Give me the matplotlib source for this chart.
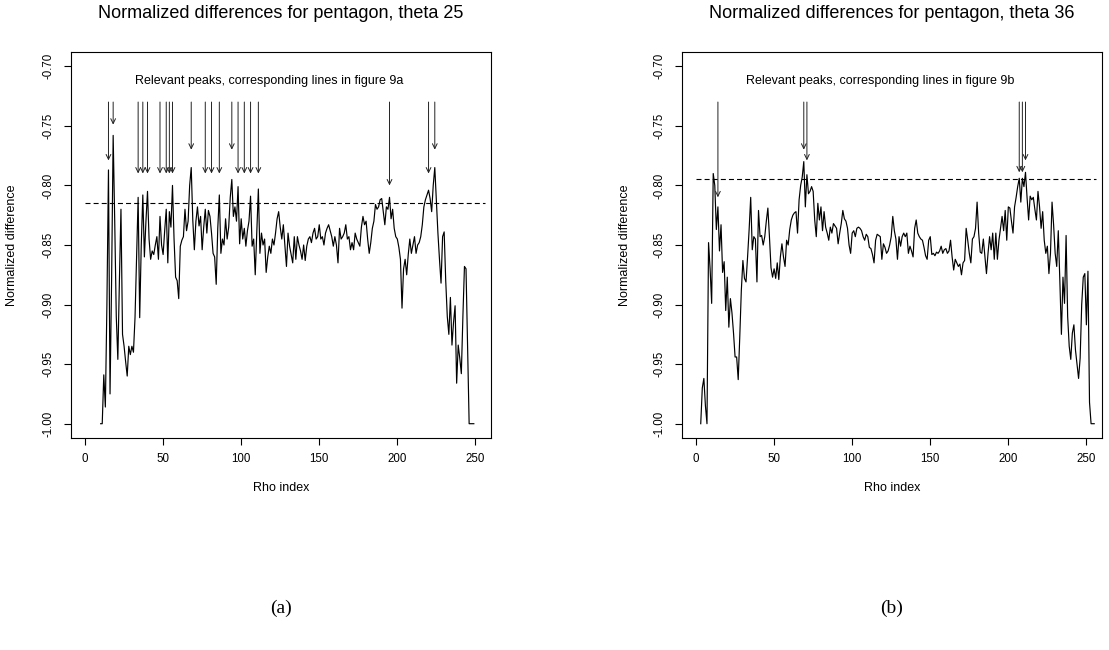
import matplotlib
matplotlib.use("Agg")
import matplotlib.pyplot as plt
import numpy as np

plt.rcParams['font.family'] = ['Liberation Sans', 'DejaVu Sans']
plt.rcParams['axes.unicode_minus'] = False

# ---------------- data: panel (a), theta 25 ----------------
title_a = "Normalized differences for pentagon, theta 25"
note_a = "Relevant peaks, corresponding lines in figure 9a"
start_a = 10
diff_a = [
    -1.000, -1.000, -0.959, -0.986, -0.900, -0.787, -0.975, -0.880, -0.758, -0.830,
    -0.910, -0.946, -0.880, -0.820, -0.925, -0.935, -0.948, -0.960, -0.935, -0.942,
    -0.935, -0.940, -0.911, -0.860, -0.810, -0.911, -0.850, -0.808, -0.860, -0.830,
    -0.805, -0.845, -0.862, -0.855, -0.858, -0.850, -0.843, -0.862, -0.826, -0.850,
    -0.858, -0.838, -0.820, -0.865, -0.822, -0.835, -0.800, -0.845, -0.877, -0.880,
    -0.895, -0.851, -0.846, -0.843, -0.820, -0.838, -0.830, -0.800, -0.785, -0.829,
    -0.854, -0.830, -0.818, -0.834, -0.826, -0.854, -0.835, -0.820, -0.840, -0.821,
    -0.826, -0.840, -0.857, -0.860, -0.883, -0.836, -0.808, -0.857, -0.845, -0.850,
    -0.828, -0.845, -0.835, -0.810, -0.795, -0.826, -0.818, -0.830, -0.801, -0.849,
    -0.828, -0.845, -0.836, -0.851, -0.838, -0.830, -0.809, -0.851, -0.845, -0.875,
    -0.840, -0.803, -0.857, -0.840, -0.850, -0.845, -0.873, -0.860, -0.851, -0.857,
    -0.845, -0.850, -0.840, -0.828, -0.822, -0.835, -0.845, -0.833, -0.850, -0.868,
    -0.840, -0.851, -0.858, -0.865, -0.843, -0.862, -0.843, -0.850, -0.855, -0.862,
    -0.850, -0.863, -0.851, -0.845, -0.843, -0.848, -0.840, -0.836, -0.845, -0.843,
    -0.833, -0.845, -0.843, -0.850, -0.840, -0.836, -0.833, -0.838, -0.843, -0.851,
    -0.843, -0.850, -0.865, -0.836, -0.845, -0.843, -0.840, -0.833, -0.845, -0.843,
    -0.854, -0.848, -0.854, -0.840, -0.845, -0.848, -0.851, -0.835, -0.826, -0.833,
    -0.830, -0.845, -0.857, -0.848, -0.836, -0.830, -0.816, -0.820, -0.818, -0.812,
    -0.811, -0.822, -0.833, -0.818, -0.820, -0.810, -0.828, -0.820, -0.836, -0.843,
    -0.845, -0.852, -0.862, -0.903, -0.870, -0.862, -0.875, -0.858, -0.845, -0.857,
    -0.850, -0.843, -0.857, -0.850, -0.848, -0.843, -0.833, -0.818, -0.812, -0.808,
    -0.804, -0.811, -0.822, -0.800, -0.785, -0.812, -0.840, -0.862, -0.882, -0.843,
    -0.839, -0.880, -0.910, -0.925, -0.894, -0.934, -0.915, -0.901, -0.966, -0.934,
    -0.945, -0.958, -0.910, -0.868, -0.870, -0.935, -1.000, -1.000, -1.000, -1.000,
]
threshold_a = -0.815
arrow_x_a = [15, 18, 34, 37, 40, 48, 52, 54, 56, 68, 77, 81, 86, 94, 98, 102, 106, 111, 195, 220, 224]
arrow_end_a = [-0.779, -0.749, -0.790, -0.790, -0.790, -0.790, -0.790, -0.790, -0.790, -0.770,
               -0.790, -0.790, -0.790, -0.770, -0.790, -0.790, -0.790, -0.790, -0.800, -0.790, -0.770]

# ---------------- data: panel (b), theta 36 ----------------
title_b = "Normalized differences for pentagon, theta 36"
note_b = "Relevant peaks, corresponding lines in figure 9b"
start_b = 3
diff_b = [
    -1.000, -0.970, -0.962, -0.985, -1.000, -0.848, -0.870, -0.899, -0.790, -0.800,
    -0.837, -0.818, -0.855, -0.833, -0.873, -0.864, -0.905, -0.877, -0.919, -0.895,
    -0.907, -0.924, -0.944, -0.944, -0.963, -0.927, -0.888, -0.863, -0.878, -0.881,
    -0.860, -0.837, -0.810, -0.854, -0.843, -0.845, -0.881, -0.821, -0.843, -0.842,
    -0.850, -0.843, -0.830, -0.819, -0.843, -0.869, -0.877, -0.870, -0.878, -0.865,
    -0.879, -0.860, -0.849, -0.860, -0.868, -0.846, -0.850, -0.837, -0.829, -0.825,
    -0.823, -0.822, -0.840, -0.812, -0.800, -0.793, -0.780, -0.818, -0.791, -0.807,
    -0.805, -0.801, -0.805, -0.829, -0.843, -0.815, -0.829, -0.818, -0.838, -0.822,
    -0.835, -0.840, -0.846, -0.835, -0.840, -0.832, -0.834, -0.836, -0.849, -0.840,
    -0.832, -0.821, -0.828, -0.830, -0.836, -0.850, -0.857, -0.840, -0.838, -0.843,
    -0.836, -0.835, -0.836, -0.838, -0.843, -0.846, -0.841, -0.843, -0.852, -0.853,
    -0.858, -0.865, -0.846, -0.841, -0.842, -0.843, -0.862, -0.849, -0.852, -0.857,
    -0.855, -0.850, -0.843, -0.826, -0.838, -0.845, -0.862, -0.843, -0.851, -0.843,
    -0.840, -0.843, -0.840, -0.857, -0.851, -0.855, -0.860, -0.836, -0.829, -0.840,
    -0.843, -0.845, -0.846, -0.852, -0.859, -0.862, -0.846, -0.843, -0.858, -0.857,
    -0.859, -0.856, -0.857, -0.855, -0.851, -0.857, -0.854, -0.853, -0.857, -0.855,
    -0.846, -0.860, -0.871, -0.862, -0.865, -0.868, -0.866, -0.875, -0.865, -0.863,
    -0.836, -0.846, -0.857, -0.865, -0.845, -0.843, -0.836, -0.814, -0.840, -0.856,
    -0.857, -0.845, -0.860, -0.874, -0.857, -0.843, -0.854, -0.840, -0.862, -0.840,
    -0.862, -0.846, -0.836, -0.826, -0.838, -0.821, -0.846, -0.818, -0.819, -0.830,
    -0.840, -0.818, -0.810, -0.801, -0.794, -0.814, -0.794, -0.801, -0.789, -0.810,
    -0.829, -0.809, -0.812, -0.810, -0.820, -0.829, -0.805, -0.818, -0.836, -0.822,
    -0.846, -0.857, -0.851, -0.874, -0.857, -0.814, -0.833, -0.857, -0.868, -0.838,
    -0.880, -0.925, -0.877, -0.899, -0.842, -0.910, -0.935, -0.946, -0.924, -0.917,
    -0.938, -0.950, -0.962, -0.945, -0.900, -0.877, -0.874, -0.917, -0.872, -0.982,
    -1.000, -1.000, -1.000,
]
threshold_b = -0.795
arrow_x_b = [14, 69, 71, 207, 209, 211]
arrow_end_b = [-0.810, -0.770, -0.779, -0.789, -0.789, -0.779]

arrow_top = -0.730
note_x = 118
note_y = -0.712
threshold_span = [0, 256]

x_ticks = [0, 50, 100, 150, 200, 250]
y_ticks = [-1.00, -0.95, -0.90, -0.85, -0.80, -0.75, -0.70]
x_label = "Rho index"
y_label = "Normalized difference"
panel_labels = ["(a)", "(b)"]

# ---------------- figure ----------------
W, H = 1109, 650
fig = plt.figure(figsize=(W / 100, H / 100), dpi=100)


def rect(l, t, r, b):
    return [l / W, 1 - b / H, (r - l) / W, (b - t) / H]


panels = [
    (rect(71, 52, 491, 438), start_a, diff_a, threshold_a, arrow_x_a, arrow_end_a, title_a, note_a, panel_labels[0], 12),
    (rect(682, 52, 1102, 438), start_b, diff_b, threshold_b, arrow_x_b, arrow_end_b, title_b, note_b, panel_labels[1], 625),
]

for r, start, vals, thr, ax_x, ax_end, title, note, plabel, ylab_px in panels:
    ax = fig.add_axes(r)
    xs = np.arange(start, start + len(vals))
    ax.plot(xs, vals, color='black', lw=0.85)
    ax.plot(threshold_span, [thr, thr], color='black', lw=0.8, linestyle=(0, (4.5, 2.8)))
    for xa, ya in zip(ax_x, ax_end):
        ax.annotate('', xy=(xa, ya), xytext=(xa, arrow_top),
                    arrowprops=dict(arrowstyle='->,head_length=0.35,head_width=0.17',
                                    lw=0.7, color='#222222', shrinkA=0, shrinkB=0))
    ax.text(note_x, note_y, note, ha='center', va='center', fontsize=9)
    ax.set_xlim(-9, 260)
    ax.set_ylim(-1.012, -0.688)
    ax.set_xticks(x_ticks)
    ax.set_xticklabels([str(t) for t in x_ticks])
    ax.set_yticks(y_ticks)
    ax.set_yticklabels(["%.2f" % t for t in y_ticks], rotation=90, va='center')
    ax.tick_params(direction='out', length=5, width=0.8, labelsize=8.3, pad=6)
    ax.tick_params(axis='y', pad=7)
    for s in ax.spines.values():
        s.set_linewidth(0.8)
    cx = (r[0] + r[2] / 2)
    fig.text(cx, 1 - 14 / H, title, ha='center', va='center', fontsize=13)
    fig.text(cx, 1 - 488 / H, x_label, ha='center', va='center', fontsize=9)
    fig.text(ylab_px / W, 1 - 245 / H, y_label, ha='center', va='center', rotation=90, fontsize=9)
    fig.text(cx, 1 - 608 / H, plabel, ha='center', va='center', fontsize=14,
             family=['Liberation Serif', 'DejaVu Serif'])

fig.savefig("out.png", dpi=100)
